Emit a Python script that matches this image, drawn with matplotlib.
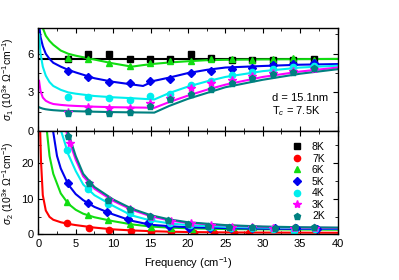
import numpy as np
import matplotlib
matplotlib.use("Agg")
from matplotlib import pyplot as plt
from matplotlib.ticker import MultipleLocator

plt.rcParams["font.family"] = ["Liberation Sans", "DejaVu Sans"]
plt.rcParams["mathtext.fontset"] = "custom"
plt.rcParams["mathtext.rm"] = "Liberation Sans"
plt.rcParams["mathtext.it"] = "Liberation Sans:italic"

# ---- sigma_1 data points (top panel) ----
f_pts = [4.0, 6.7, 9.4, 12.2, 14.9, 17.6, 20.4, 23.1, 25.9, 28.6, 31.4, 34.1, 36.9]
s1_8K = [5.6, 5.95, 6.0, 5.6, 5.6, 5.6, 5.95, 5.65, 5.55, 5.5, 5.55, 5.5, 5.6]
s1_6K = [5.7, 5.6, 5.25, 5.07, 5.32, 5.4, 5.42, 5.59, 5.59, 5.53, 5.6, 5.64, 5.55]
s1_5K = [4.7, 4.23, 3.79, 3.72, 3.92, 4.05, 4.48, 4.63, 4.8, 4.88, 5.09, 5.2, 5.25]
s1_4K = [2.67, 2.67, 2.6, 2.42, 2.75, 2.87, 3.55, 3.9, 4.35, 4.62, 4.83, 5.0, 5.05]
s1_3K = [1.5, 1.9, 1.77, 1.77, 2.2, 2.55, 3.33, 3.7, 4.0, 4.3, 4.5, 4.65, 4.8]
s1_2K = [1.38, 1.56, 1.38, 1.46, 1.95, 2.5, 2.88, 3.28, 3.72, 4.1, 4.44, 4.62, 4.88]

# ---- sigma_1 fit curves ----
f_fit1 = [0.1, 0.3, 0.6, 1, 1.5, 2, 3, 4, 5, 7.5, 10, 12.5, 14, 15.5, 17.5, 20, 22.5, 25, 30, 35, 40]
fit1_8K_f = [0, 40]
fit1_8K = [5.57, 5.57]
fit1_6K = [11, 9, 8.0, 7.4, 7.0, 6.7, 6.25, 6.0, 5.85, 5.55, 5.25, 5.0, 5.12, 5.22, 5.32, 5.42, 5.5, 5.53, 5.56, 5.58, 5.6]
fit1_5K = [8.3, 7.3, 6.6, 6.0, 5.6, 5.3, 5.0, 4.75, 4.55, 4.1, 3.82, 3.62, 3.5, 3.9, 4.15, 4.5, 4.75, 4.93, 5.05, 5.15, 5.2]
fit1_4K = [7.5, 6.0, 5.0, 4.3, 3.8, 3.5, 3.2, 3.0, 2.9, 2.72, 2.62, 2.55, 2.5, 2.45, 2.95, 3.45, 3.85, 4.2, 4.65, 4.93, 5.07]
fit1_3K = [3.9, 3.1, 2.6, 2.35, 2.2, 2.1, 2.03, 1.98, 1.95, 1.89, 1.85, 1.83, 1.82, 1.8, 2.25, 2.75, 3.2, 3.6, 4.2, 4.62, 4.93]
fit1_2K = [1.85, 1.8, 1.74, 1.69, 1.65, 1.62, 1.58, 1.56, 1.54, 1.5, 1.47, 1.45, 1.44, 1.43, 1.95, 2.5, 2.95, 3.4, 3.98, 4.45, 4.8]

# ---- sigma_2 data points (bottom panel) ----
f2_7K = [3.8, 6.8, 9.5, 12.4, 15.1, 17.7, 20.8, 23.5, 26.1, 28.2]
s2_7K = [3.1, 1.85, 1.2, 1.0, 0.8, 0.6, 0.5, 0.3, 0.3, 0.3]
f2_6K = [3.8, 6.7, 9.35, 12.25, 15.0, 17.7, 20.5, 23.2, 26, 28.7, 31.5, 34.2, 37]
s2_6K = [9.2, 5.45, 4.0, 2.8, 2.1, 1.7, 1.6, 2.1, 2.1, 2.1, 1.8, 1.8, 1.7]
f2_5K = [4.0, 6.7, 9.2, 12.0, 14.7, 17.5, 20.2, 23, 25.7, 28.6, 31.6, 34.4, 37.2]
s2_5K = [14.4, 8.9, 6.4, 4.3, 3.2, 2.4, 1.9, 1.7, 1.8, 1.7, 1.9, 1.9, 1.6]
f2_4K = [3.8, 6.7, 9.35, 12.25, 15.0, 17.6, 20.3, 23, 25.7, 28.5, 31.4, 34.2, 37]
s2_4K = [23.7, 12.7, 8.5, 5.9, 4.3, 3.2, 2.6, 2.2, 1.9, 1.8, 1.6, 1.0, 1.5]
f2_3K = [4.2, 6.8, 9.4, 12.3, 15.0, 17.7, 20.4, 23.1, 25.9, 28.6, 31.4, 34.2, 37]
s2_3K = [25.6, 14.3, 9.6, 7.0, 5.0, 3.8, 3.1, 2.5, 2.2, 2.0, 1.9, 1.9, 1.8]
f2_2K = [4.0, 6.8, 9.35, 12.25, 14.9, 17.4, 20, 22.7, 25.5, 28.5, 31.6, 34.3, 36.8]
s2_2K = [27.7, 14.5, 9.7, 7.1, 5.15, 4.0, 2.9, 2.4, 2.2, 2.1, 1.9, 2.0, 2.1]

# ---- sigma_2 fit curves ----
fit2_7K_f = [0.1, 0.2, 0.36, 0.6, 1, 1.5, 2, 3, 4, 5, 7.5, 10, 12.5, 15, 17.5, 20, 25, 30, 35, 40]
fit2_7K = [60, 33, 20.6, 11, 6.7, 4.9, 4.1, 3.4, 2.95, 2.6, 1.9, 1.4, 1.1, 0.9, 0.75, 0.65, 0.55, 0.5, 0.48, 0.45]
fit2_6K_f = [1.0, 1.5, 2, 3, 4, 5, 6, 7.5, 10, 12.5, 15, 17.5, 20, 25, 30, 35, 40]
fit2_6K = [32, 22, 17, 11.5, 8.6, 6.9, 5.8, 4.8, 3.7, 2.8, 2.2, 1.9, 1.7, 1.5, 1.4, 1.35, 1.3]
fit2_5K_f = [1.9, 2.5, 3, 4, 5, 6, 7.5, 10, 12.5, 15, 17.5, 20, 25, 30, 35, 40]
fit2_5K = [30, 22, 18.5, 14.0, 11.3, 9.6, 7.7, 5.6, 3.8, 2.7, 2.3, 2.0, 1.75, 1.6, 1.55, 1.5]
fit2_4K_f = [2.9, 3.5, 4, 5, 6, 7.5, 10, 12.5, 15, 17.5, 20, 25, 30, 35, 40]
fit2_4K = [30, 26, 22.5, 17.8, 14.0, 11.0, 8.0, 5.3, 3.9, 3.1, 2.6, 2.1, 1.9, 1.75, 1.7]
fit2_3K_f = [3.6, 4, 5, 6, 7.5, 10, 12.5, 15, 17.5, 20, 25, 30, 35, 40]
fit2_3K = [30, 27, 21, 16.3, 12.8, 9.4, 6.9, 5.1, 3.9, 3.2, 2.5, 2.1, 1.9, 1.8]
fit2_2K_f = [3.8, 4, 5, 6, 7.5, 10, 12.5, 15, 17.5, 20, 25, 30, 35, 40]
fit2_2K = [30, 28.5, 22, 17.0, 13.3, 9.8, 7.2, 5.4, 4.2, 3.4, 2.6, 2.2, 2.0, 1.9]

c8, c7, c6, c5, c4, c3, c2 = "black", "#ff0000", "#11dd11", "#0000ee", "#00eeee", "#ff00ff", "#008080"
ms = 4.5
lw = 1.5

fig = plt.figure(figsize=(3.99, 2.8), dpi=100)
ax1 = fig.add_axes([0.096, 0.532, 0.75, 0.368])
ax2 = fig.add_axes([0.096, 0.163, 0.75, 0.369])

# top panel
ax1.plot(fit1_8K_f, fit1_8K, color=c8, lw=lw)
ax1.plot(f_fit1, fit1_6K, color=c6, lw=lw)
ax1.plot(f_fit1, fit1_5K, color=c5, lw=lw)
ax1.plot(f_fit1, fit1_4K, color=c4, lw=lw)
ax1.plot(f_fit1, fit1_3K, color=c3, lw=lw)
ax1.plot(f_fit1, fit1_2K, color=c2, lw=lw)
ax1.plot(f_pts, s1_8K, "s", color=c8, ms=ms, ls="none")
ax1.plot(f_pts, s1_6K, "^", color=c6, ms=ms, ls="none")
ax1.plot(f_pts, s1_5K, "D", color=c5, ms=ms - 0.5, ls="none")
ax1.plot(f_pts, s1_4K, "o", color=c4, ms=ms, ls="none")
ax1.plot(f_pts, s1_3K, "*", color=c3, ms=ms + 1.5, ls="none")
ax1.plot(f_pts, s1_2K, "p", color=c2, ms=ms + 0.5, ls="none")

ax1.set_xlim(0, 40)
ax1.set_ylim(0, 8)
ax1.yaxis.set_major_locator(MultipleLocator(3))
ax1.yaxis.set_minor_locator(MultipleLocator(1.5))
ax1.set_ylabel(r"$\sigma_1$ (10$^3$* $\Omega^{-1}$cm$^{-1}$)", fontsize=7.5)
ax1.tick_params(labelbottom=False)
ax1.text(0.78, 0.32, "d = 15.1nm", transform=ax1.transAxes, fontsize=8, va="center")
ax1.text(0.78, 0.19, r"T$_c$ = 7.5K", transform=ax1.transAxes, fontsize=8, va="center")

# bottom panel
ax2.plot(fit2_7K_f, fit2_7K, color=c7, lw=lw)
ax2.plot(fit2_6K_f, fit2_6K, color=c6, lw=lw)
ax2.plot(fit2_5K_f, fit2_5K, color=c5, lw=lw)
ax2.plot(fit2_4K_f, fit2_4K, color=c4, lw=lw)
ax2.plot(fit2_3K_f, fit2_3K, color=c3, lw=lw)
ax2.plot(fit2_2K_f, fit2_2K, color=c2, lw=lw)
ax2.plot([], [], "s", color=c8, ms=ms, label="8K")
ax2.plot(f2_7K, s2_7K, "o", color=c7, ms=ms, ls="none", label="7K")
ax2.plot(f2_6K, s2_6K, "^", color=c6, ms=ms, ls="none", label="6K")
ax2.plot(f2_5K, s2_5K, "D", color=c5, ms=ms - 0.5, ls="none", label="5K")
ax2.plot(f2_4K, s2_4K, "o", color=c4, ms=ms, ls="none", label="4K")
ax2.plot(f2_3K, s2_3K, "*", color=c3, ms=ms + 1.5, ls="none", label="3K")
ax2.plot(f2_2K, s2_2K, "p", color=c2, ms=ms + 0.5, ls="none", label="2K")

ax2.set_xlim(0, 40)
ax2.set_ylim(0, 29)
ax2.yaxis.set_major_locator(MultipleLocator(10))
ax2.yaxis.set_minor_locator(MultipleLocator(5))
ax2.set_ylabel(r"$\sigma_2$ (10$^3$* $\Omega^{-1}$cm$^{-1}$)", fontsize=7.5)
ax2.set_xlabel("Frequency (cm$^{-1}$)", fontsize=8)
ax2.legend(loc="upper right", bbox_to_anchor=(0.985, 0.975), frameon=False, fontsize=7.5,
           handlelength=1.0, handletextpad=0.9, labelspacing=0.15, borderpad=0.3)

for ax in (ax1, ax2):
    ax.xaxis.set_major_locator(MultipleLocator(5))
    ax.xaxis.set_minor_locator(MultipleLocator(2.5))
    ax.tick_params(which="both", direction="in", top=True, right=True, labelsize=8)
    ax.tick_params(which="major", length=3.5)
    ax.tick_params(which="minor", length=2)
    for s in ax.spines.values():
        s.set_linewidth(1.0)

ax1.yaxis.set_label_coords(-0.075, 0.5)
ax2.yaxis.set_label_coords(-0.075, 0.5)

fig.savefig("out.png", dpi=100)
